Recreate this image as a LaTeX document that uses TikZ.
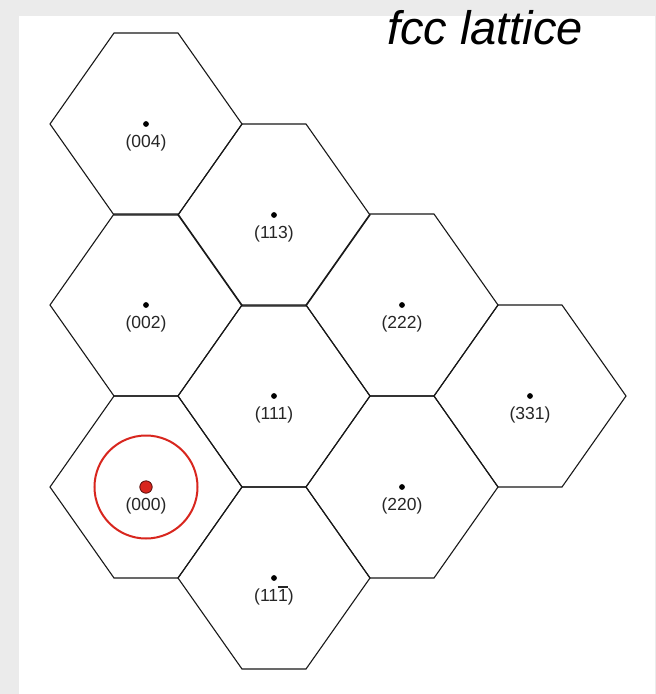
\documentclass[tikz,border=0pt]{standalone}
\usepackage{fontspec}
\setmainfont{Liberation Sans}
\newcommand\barone{\makebox[0pt][l]{\hspace{-0.5pt}\rule[14pt]{10.5pt}{1.4pt}}1}
\begin{document}
\begin{tikzpicture}[x=1pt,y=-1pt,
  hexline/.style={draw=black!90,line width=1.1pt,line join=miter},
  lbl/.style={anchor=base,inner sep=0pt,font=\fontsize{17.5}{20}\selectfont,text=black!85},
  spot/.style={fill=black,draw=none},
  ring/.style={draw=redish,line width=2pt}]
\definecolor{redish}{HTML}{D8261E}
\useasboundingbox (0,0) rectangle (656,694);
\fill[black!8] (0,0) rectangle (656,694);
\fill[white] (19,16) rectangle (655,694);
\node[anchor=base west,inner sep=0pt,font=\fontsize{47}{50}\selectfont\itshape] (title) at (387,44) {fcc lattice};
\foreach \cx/\cy/\nm/\txt in {
  146/124/h004/{(004)},
  146/305/h002/{(002)},
  146/487/h000/{(000)},
  274/215/h113/{(113)},
  274/396/h111/{(111)},
  274/578/h11b/{(11\barone)},
  402/305/h222/{(222)},
  402/487/h220/{(220)},
  530/396/h331/{(331)}}{
  \draw[hexline] ({\cx-96},\cy) -- ({\cx-32},{\cy-91}) -- ({\cx+32},{\cy-91}) -- ({\cx+96},\cy) -- ({\cx+32},{\cy+91}) -- ({\cx-32},{\cy+91}) -- cycle;
  \coordinate (\nm) at (\cx,\cy);
  \node[lbl] (\nm-l) at (\cx,{\cy+23.5}) {\txt};
}
\foreach \nm in {h004,h002,h113,h111,h11b,h222,h220,h331}{
  \fill[spot] (\nm) circle (2.9);
}
\draw[ring] (h000) circle (51.5);
\fill[redish,draw=black!60!redish,line width=0.8pt] (h000) circle (6.2);
\end{tikzpicture}
\end{document}
